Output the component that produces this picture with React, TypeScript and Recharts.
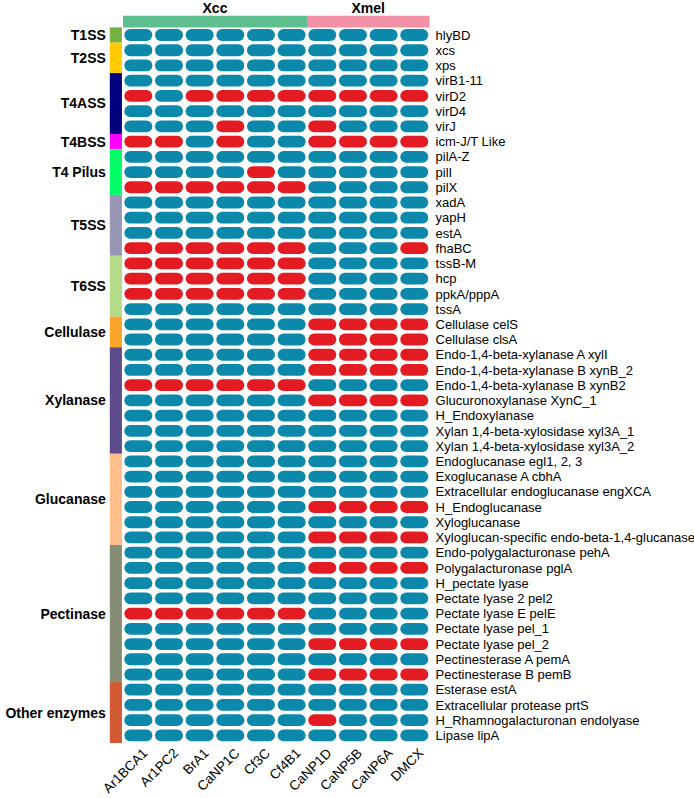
import React from "react";
import { ScatterChart, Scatter, XAxis, YAxis, ReferenceArea } from "recharts";

const STRAINS = ["Ar1BCA1", "Ar1PC2", "BrA1", "CaNP1C", "Cf3C", "Cf4B1", "CaNP1D", "CaNP5B", "CaNP6A", "DMCX"];

const CLADES = ["Xcc", "Xmel"];
const CLADE_SIZES = [6, 4];
const CLADE_COLORS = ["#5CBF8D", "#F190A6"];

const GENES = [
  "hlyBD", "xcs", "xps", "virB1-11", "virD2", "virD4", "virJ", "icm-J/T Like",
  "pilA-Z", "pilI", "pilX", "xadA", "yapH", "estA", "fhaBC",
  "tssB-M", "hcp", "ppkA/pppA", "tssA",
  "Cellulase celS", "Cellulase clsA",
  "Endo-1,4-beta-xylanase A xylI", "Endo-1,4-beta-xylanase B xynB_2", "Endo-1,4-beta-xylanase B xynB2",
  "Glucuronoxylanase XynC_1", "H_Endoxylanase", "Xylan 1,4-beta-xylosidase xyl3A_1", "Xylan 1,4-beta-xylosidase xyl3A_2",
  "Endoglucanase egl1, 2, 3", "Exoglucanase A cbhA", "Extracellular endoglucanase engXCA", "H_Endoglucanase",
  "Xyloglucanase", "Xyloglucan-specific endo-beta-1,4-glucanase",
  "Endo-polygalacturonase pehA", "Polygalacturonase pglA", "H_pectate lyase", "Pectate lyase 2 pel2",
  "Pectate lyase E pelE", "Pectate lyase pel_1", "Pectate lyase pel_2", "Pectinesterase A pemA", "Pectinesterase B pemB",
  "Esterase estA", "Extracellular protease prtS", "H_Rhamnogalacturonan endolyase", "Lipase lipA",
];

const GROUPS = ["T1SS", "T2SS", "T4ASS", "T4BSS", "T4 Pilus", "T5SS", "T6SS", "Cellulase", "Xylanase", "Glucanase", "Pectinase", "Other enzymes"];
const GROUP_SIZES = [1, 2, 4, 1, 3, 4, 4, 2, 7, 6, 9, 4];
const GROUP_COLORS = ["#76B043", "#FFCC00", "#00007F", "#FF00FF", "#00FF66", "#9896B6", "#B3DB8A", "#F8A52A", "#5E4B8B", "#FDBF8B", "#858E75", "#D15A33"];

// one string per gene, one digit per strain: 1 = red, 0 = blue
const CALLS = [
  "0000000000", "0000000000", "0000000000", "0000000000", "1011111111", "0000000000", "0001001000", "1101001111",
  "0000000000", "0000100000", "1111110000", "0000000000", "0000000000", "0000000000", "1111110001",
  "1111110000", "1111110000", "1111110000", "0000000000",
  "0000001111", "0000001111",
  "0000001111", "0000001111", "1111110000", "0000001111", "0000000000", "0000000000", "0000000000",
  "0000000000", "0000000000", "0000000000", "0000001111", "0000000000", "0000001111",
  "0000000000", "0000001111", "0000000000", "0000000000", "1111110000", "0000000000", "0000001111", "0000000000", "0000001111",
  "0000000000", "0000000000", "0000001000", "0000000000",
];

const BLUE = "#0B88AA";
const RED = "#E31B23";
const FONT = '"Liberation Sans", Arial, Helvetica, sans-serif';

const cells = CALLS.flatMap((row, y) =>
  row.split("").map((c, x) => ({ x, y, red: c === "1" }))
);

const starts = (sizes: number[]) => sizes.map((_, i) => sizes.slice(0, i).reduce((a, b) => a + b, 0));
const groupStarts = starts(GROUP_SIZES);
const cladeStarts = starts(CLADE_SIZES);

const Pill = (props: any) => {
  const { cx, cy, payload } = props;
  return (
    <rect x={cx - 14} y={cy - 5.9} width={28} height={11.8} rx={5.9} ry={5.9} fill={payload.red ? RED : BLUE} />
  );
};

const GeneTick = (props: any) => {
  const { x, y, payload } = props;
  return (
    <text x={x} y={y} dy="0.36em" fontSize={13} fill="#000" fontFamily={FONT}>
      {GENES[payload.value]}
    </text>
  );
};

const StrainTick = (props: any) => {
  const { x, y, payload } = props;
  const tx = x + 10;
  const ty = y + 11;
  return (
    <text x={tx} y={ty} transform={`rotate(-45 ${tx} ${ty})`} textAnchor="end" fontSize={13.5} fill="#000" fontFamily={FONT}>
      {STRAINS[payload.value]}
    </text>
  );
};

export default function App() {
  return (
    <div style={{ position: "absolute", left: 0, top: 0, fontFamily: FONT }}>
      <ScatterChart width={694} height={798} margin={{ top: 27.4, left: 123, right: 0, bottom: 0 }}>
        <XAxis
          type="number"
          dataKey="x"
          domain={[-0.5, STRAINS.length - 0.5]}
          ticks={STRAINS.map((_, i) => i)}
          interval={0}
          allowDataOverflow
          axisLine={false}
          tickLine={false}
          tickSize={0}
          tickMargin={0}
          height={55}
          tick={<StrainTick />}
        />
        <YAxis
          type="number"
          dataKey="y"
          orientation="right"
          reversed
          domain={[-0.5, GENES.length - 0.5]}
          ticks={GENES.map((_, i) => i)}
          interval={0}
          allowDataOverflow
          axisLine={false}
          tickLine={false}
          tickSize={0}
          tickMargin={6}
          width={264.4}
          tick={<GeneTick />}
        />

        {CLADES.map((name, i) => (
          <ReferenceArea
            key={name}
            x1={cladeStarts[i] - 0.5}
            x2={cladeStarts[i] + CLADE_SIZES[i] - 0.5}
            y1={-1.27}
            y2={-0.5}
            fill={CLADE_COLORS[i]}
            fillOpacity={1}
            stroke="none"
            ifOverflow="visible"
            label={{ value: name, position: "top", offset: 3, fill: "#000", fontSize: 14, fontWeight: "bold" }}
          />
        ))}

        {GROUPS.map((name, i) => (
          <ReferenceArea
            key={name}
            x1={-0.93}
            x2={-0.535}
            y1={groupStarts[i] - 0.5}
            y2={groupStarts[i] + GROUP_SIZES[i] - 0.5}
            fill={GROUP_COLORS[i]}
            fillOpacity={1}
            stroke="none"
            ifOverflow="visible"
            label={{ value: name, position: "left", offset: 4, fill: "#000", fontSize: 14, fontWeight: "bold" }}
          />
        ))}

        <Scatter data={cells} shape={<Pill />} isAnimationActive={false} />
      </ScatterChart>
    </div>
  );
}
